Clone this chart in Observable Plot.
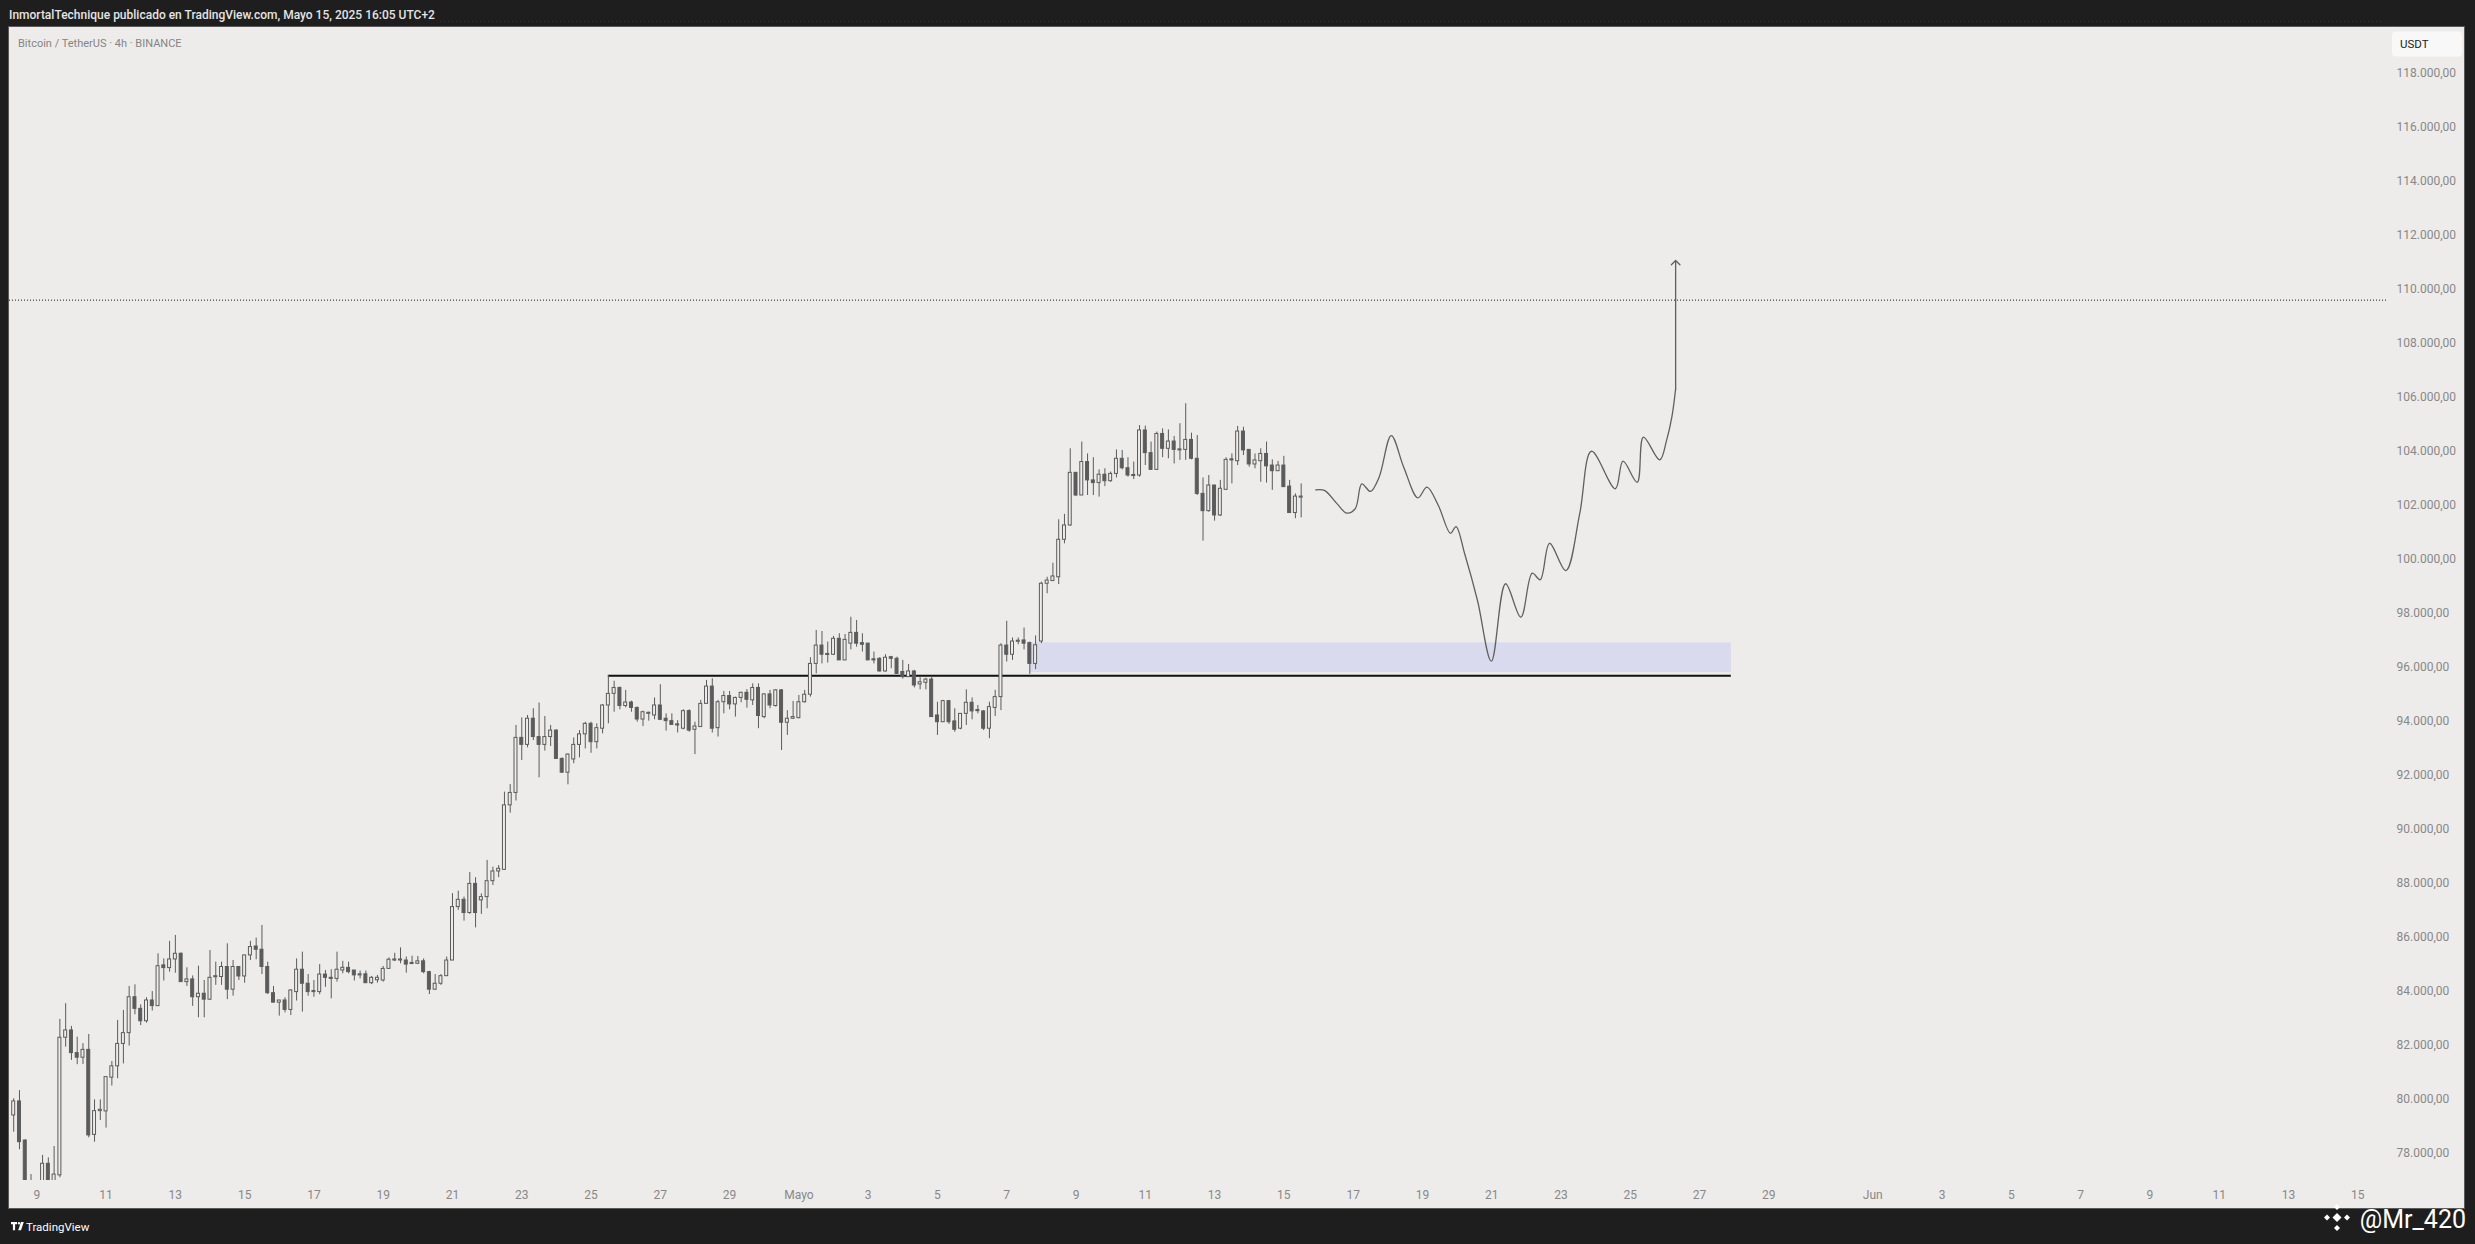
<!DOCTYPE html>
<html><head><meta charset="utf-8">
<script src="https://cdn.jsdelivr.net/npm/d3@7"></script>
<script src="https://cdn.jsdelivr.net/npm/@observablehq/plot@0.6"></script>
<style>
html,body{margin:0;padding:0;background:#1e1e1e;}
body{width:2475px;height:1244px;position:relative;overflow:hidden;font-family:Roboto,"Liberation Sans",sans-serif;}
#pane{position:absolute;left:9px;top:27px;width:2455px;height:1181px;background:#edecea;}
#overlay{position:absolute;left:0;top:0;pointer-events:none;}
</style></head>
<body>
<div id="pane"></div>
<svg id="overlay" width="2475" height="1244" font-family="Roboto, sans-serif">
  <text x="9" y="19" fill="#e4e4e4" font-size="12" font-weight="500">InmortalTechnique publicado en TradingView.com, Mayo 15, 2025 16:05 UTC+2</text>
  <line x1="440" x2="2382" y1="21.5" y2="21.5" stroke="#3a3a3a" stroke-dasharray="1,3"/>
  <rect x="8.5" y="26.5" width="2456" height="1182" fill="none" stroke="#5a5a5a"/>
  <text x="18" y="46.5" fill="#858585" font-size="11">Bitcoin / TetherUS · 4h · BINANCE</text>
  <rect x="2392" y="31.5" width="70" height="25" rx="4" fill="#f8f8f8"/>
  <text x="2400" y="48" font-size="11.5" fill="#1c1c1c">USDT</text>
  <g fill="#ffffff">
    <path d="M11 1222h6v2.3h-1.9v6h-2.2v-6H11z"/>
    <circle cx="19" cy="1223.2" r="1.2"/>
    <path d="M21 1222h2.8l-2.8 8.3h-2.8z"/>
    <text x="26" y="1231" font-size="11.5">TradingView</text>
  </g>
  <g fill="#ffffff">
    <path d="M2337 1213l4.5 4.5-4.5 4.5-4.5-4.5z"/>
    <path d="M2337 1204l3 3-3 3-3-3z"/>
    <path d="M2337 1225l3 3-3 3-3-3z"/>
    <path d="M2327 1214.5l3 3-3 3-3-3z"/>
    <path d="M2347 1214.5l3 3-3 3-3-3z"/>
    <text x="2466" y="1228" font-size="25" text-anchor="end">@Mr_420</text>
  </g>
</svg>
<script>
// ---- candle data (BTC/USDT 4h) ----
const open = [
79380,79900,78450,76500,76700,75800,77590,76700,77160,82260,
82530,81690,81520,81810,78660,79540,79530,80780,81200,82030,
82430,83760,83330,82870,83640,83430,84940,84840,85160,85370,
84320,84420,83760,83890,83670,84500,84510,84880,84040,84880,
84530,85310,85640,85520,84880,83910,83560,83640,83290,83950,
84780,84260,83950,83950,84600,84480,84440,84750,84850,84750,
84570,84610,84280,84390,84380,84810,85120,85120,85120,84990,
85000,85090,84690,84040,84260,84540,85120,87100,87370,86880,
87960,87350,87470,88060,88420,88480,90870,91330,93370,93110,
94080,93400,93110,93400,93640,92590,92080,92570,93110,93500,
93890,93210,93710,94570,95000,95220,94550,94680,94480,94050,
94260,94200,94570,94080,93990,93870,93710,94360,93670,93770,
94630,95270,93730,94690,94920,94610,94850,95040,94760,95220,
94140,94980,94550,95130,93930,94080,94100,94690,94970,96110,
96790,96480,96450,97040,96240,96860,97260,96880,96860,96280,
96300,95830,96360,96300,95810,95620,95830,95350,95410,95530,
94200,93950,94730,93980,93710,94260,94670,94400,94350,93710,
94480,94880,96790,96450,96930,96980,96880,96110,96940,99080,
99180,99320,100710,101240,103190,102350,103590,102910,102810,103120,
102880,103150,103710,103360,103110,103090,104760,103920,103300,104630,
104080,104350,104020,104040,104410,103710,102410,101770,102720,101610,
102560,103690,103620,104720,104040,103500,103620,103890,103460,103250,
103460,102680,101700,102270
];
const high = [
80000,80300,78480,77190,76950,77900,77810,78230,82940,83520,
82680,82280,82040,82380,79960,79960,80800,81380,82900,83270,
84160,84220,83480,83740,83970,85370,85180,85830,86050,85400,
84850,84550,84910,84380,85490,85060,85060,85740,85120,84900,
85310,85830,85950,86420,85060,84160,83640,83740,84040,85180,
85430,84600,84380,84970,84750,84780,85430,85090,85060,84750,
84730,84730,84530,84570,84900,85220,85390,85590,85250,85280,
85270,85180,84720,84600,84600,85250,87600,87690,87470,88380,
88190,87590,88830,88580,88640,91360,91640,93830,94110,94200,
94450,94660,94160,93830,93670,92630,92780,93370,93640,93950,
93950,93890,94610,95680,95470,95250,95130,94730,94510,94360,
94320,94850,95340,94260,94260,94010,94410,94410,93950,94760,
95500,95560,94760,95090,95090,94880,95060,95160,95370,95370,
95000,95130,95160,95160,94380,94720,94940,95130,96340,97350,
97310,96920,97130,97230,97200,97840,97720,97230,96880,96550,
96340,96450,96390,96360,96240,96090,95870,95600,95580,95640,
94690,94760,94760,94450,94260,95150,94850,94570,94380,94690,
95130,96860,97690,97070,97070,97440,96920,97150,99140,99320,
99840,101450,101650,104080,103190,104330,103890,103750,103300,103340,
103220,104040,104020,103750,103590,104940,104920,104330,104700,104820,
104780,104540,105010,105750,104660,104570,103000,103090,102720,102910,
103750,103890,104910,104880,104040,103890,104080,104330,103670,103610,
103800,102910,102410,102780
];
const low = [
78760,78110,76200,76000,74600,75500,76300,76400,77070,81910,
81420,81260,81270,78550,78390,79190,78910,80470,80740,81290,
81950,83110,82710,82800,83250,83420,84360,84690,84650,84320,
84160,83420,83000,83000,83640,84200,84200,83670,83800,84380,
84280,85120,85150,84600,83860,83550,83060,83180,83080,83620,
83210,83800,83760,83850,84130,83700,84320,84630,84630,84360,
84440,84280,84230,84280,84320,84810,85080,85000,84650,84970,
84970,84630,83860,84010,84200,84540,85120,86980,86580,86830,
86330,86830,87040,87900,88190,88460,90580,91030,92530,93000,
93270,91890,92880,93050,92590,92060,91630,92410,92630,92960,
92800,92960,93520,93890,94320,94410,94480,94320,93950,93790,
93990,94040,94010,93620,93830,93550,93670,93580,92750,93770,
94630,93550,93400,94260,94410,94140,94670,94470,94570,93710,
94080,94450,94510,92900,93460,94050,94080,94660,94880,95740,
96110,96140,96420,96240,96240,96630,96730,96550,96240,96110,
95810,95810,95930,95720,95550,95620,95220,95150,95150,94140,
93460,93950,93870,93580,93670,93830,94040,94260,93640,93340,
94160,94380,96180,96240,96820,96630,95720,95900,96860,98710,
99180,99050,100560,101210,102310,102350,102350,102350,102290,102680,
102840,103000,103300,103030,102940,103030,103460,103280,103280,103750,
103710,103520,103650,103650,103670,102350,100660,101730,101400,101570,
102540,102780,103460,103830,103400,103340,102840,102810,102540,103250,
102660,101700,101490,101520
];
const close = [
79900,78390,76500,76700,75800,77590,76700,77190,82260,82530,
81690,81520,81810,78640,79540,79590,80800,81200,82030,82430,
83760,83330,82870,83640,83430,84910,84840,85160,85370,84320,
84420,83760,83890,83670,84480,84540,84880,84040,84880,84530,
85310,85620,85520,84880,83910,83560,83640,83290,84010,84780,
84260,83950,83990,84600,84480,84440,84780,84850,84690,84570,
84610,84280,84480,84480,84810,85150,85160,85160,84970,85030,
85090,84690,84040,84260,84540,85120,87100,87370,86880,87960,
86880,87470,88060,88420,88520,90870,91330,93370,93110,94080,
93400,93110,93400,93640,92590,92080,92750,93110,93500,93890,
93210,93730,94570,95000,95220,94550,94680,94480,94050,94320,
94300,94570,94040,93990,93850,93830,94360,93640,93790,94630,
95270,93710,94690,94920,94610,94850,95040,94780,95220,94180,
94980,94570,95130,93930,94080,94140,94690,94970,96110,96790,
96450,96440,97040,96240,97000,97260,96860,96820,96240,96240,
95830,96340,96300,95740,95620,95830,95310,95430,95530,94140,
93950,94730,93950,93670,94260,94670,94350,94360,93710,94510,
94880,96790,96450,96940,96970,96860,96110,96800,99080,99200,
99350,100710,101240,103190,102350,103590,102910,102810,103120,102880,
103150,103710,103360,103090,103070,104760,103920,103300,104630,104080,
104350,104040,104060,104410,103710,102410,101770,102720,101610,102600,
103670,103650,104720,104020,103500,103650,103890,103430,103250,103460,
102660,101700,102310,102310
];
const firstCandle = "2025-04-08T08:00:00Z";   // 4h candles from here on

// ---- drawn projection (days after 9 Apr, price) ----
const projDay = [36.92,37.17,37.54,37.81,38.06,38.25,38.5,38.75,39.1,39.46,39.87,40.13,40.46,40.81,40.97,41.22,41.59,41.99,42.4,42.84,43.17,43.4,43.67,44.14,44.54,44.88,45.57,45.79,46.2,46.38,46.85,47.05,47.2,47.31];
const projPrice = [102560,102540,102040,101700,101860,102780,102500,103030,104570,103400,102260,102660,101980,100950,101200,100190,98460,96210,99080,97840,99470,99230,100580,99570,101670,103990,102600,103620,102840,104510,103670,104400,105250,106300];
const arrowTip = 111060;

// ---- annotations ----
const athPrice = 109588;
const zoneStart = "2025-05-07T16:00:00Z", zoneEnd = "2025-05-27T22:00:00Z";
const zoneLow = 95790, zoneHigh = 96890;
const levelStart = "2025-04-25T12:00:00Z", levelPrice = 95670;

// ---- axes ----
const yTicks = [78000,80000,82000,84000,86000,88000,90000,92000,94000,96000,98000,100000,102000,104000,106000,108000,110000,112000,114000,116000,118000];
const xTickDates = ["2025-04-09","2025-04-11","2025-04-13","2025-04-15","2025-04-17","2025-04-19","2025-04-21","2025-04-23","2025-04-25","2025-04-27","2025-04-29","2025-05-01","2025-05-03","2025-05-05","2025-05-07","2025-05-09","2025-05-11","2025-05-13","2025-05-15","2025-05-17","2025-05-19","2025-05-21","2025-05-23","2025-05-25","2025-05-27","2025-05-29","2025-06-01","2025-06-03","2025-06-05","2025-06-07","2025-06-09","2025-06-11","2025-06-13","2025-06-15"];
const xTickLabels = ["9","11","13","15","17","19","21","23","25","27","29","Mayo","3","5","7","9","11","13","15","17","19","21","23","25","27","29","Jun","3","5","7","9","11","13","15"];

const paneBg = "#edecea";
const candleColor = "#5b5b5b";
const H4 = 4 * 3600e3, DAY = 864e5;
const t0 = +new Date(firstCandle);
const candles = open.map((o, i) => ({t: new Date(t0 + i * H4), o, h: high[i], l: low[i], c: close[i]}));
const day0 = Date.UTC(2025, 3, 9);
const proj = projDay.map((d, i) => ({t: new Date(day0 + d * DAY), p: projPrice[i]}));
const last = proj[proj.length - 1];
const xTicks = xTickDates.map(s => new Date(s + "T00:00:00Z"));
const labelOf = new Map(xTicks.map((d, i) => [+d, xTickLabels[i]]));
const fmt = d3.formatLocale({decimal: ",", thousands: ".", grouping: [3], currency: ["", ""]}).format(",.2f");
const half = 62 * 60e3;

const chart = Plot.plot({
  width: 2455, height: 1181,
  marginLeft: 0, marginTop: 0, marginRight: 77, marginBottom: 28,
  style: {background: "transparent", fontFamily: "Roboto, sans-serif", fontSize: "12px", overflow: "visible"},
  x: {type: "utc", domain: [new Date(day0 - 0.788 * DAY), new Date(day0 + 67.86 * DAY)]},
  y: {domain: [76970, 119690]},
  marks: [
    Plot.axisY({anchor: "right", ticks: yTicks, tickFormat: fmt, tickSize: 0, tickPadding: 9, label: null, color: "#888888", fontSize: 12}),
    Plot.axisX({ticks: xTicks, tickFormat: d => labelOf.get(+d), tickSize: 0, tickPadding: 10, label: null, color: "#888888", fontSize: 12}),
    Plot.ruleY([athPrice], {stroke: "#1a1a1a", strokeDasharray: "1,2", strokeWidth: 1}),
    Plot.rect([{a: new Date(zoneStart), b: new Date(zoneEnd), lo: zoneLow, hi: zoneHigh}], {x1: "a", x2: "b", y1: "lo", y2: "hi", fill: "#d9daee"}),
    Plot.ruleY([{y: levelPrice, a: new Date(levelStart), b: new Date(zoneEnd)}], {y: "y", x1: "a", x2: "b", stroke: "#111111", strokeWidth: 2}),
    Plot.ruleX(candles, {x: "t", y1: "l", y2: "h", stroke: candleColor, strokeWidth: 1, clip: true}),
    Plot.rect(candles, {
      x1: d => new Date(+d.t - half), x2: d => new Date(+d.t + half),
      y1: d => Math.min(d.o, d.c), y2: d => Math.max(d.o, d.c),
      fill: d => d.c >= d.o ? paneBg : candleColor,
      stroke: candleColor, strokeWidth: 1, clip: true
    }),
    Plot.line(proj, {x: "t", y: "p", curve: "catmull-rom", stroke: "#606060", strokeWidth: 1.3}),
    Plot.arrow([{x: last.t, y1: last.p, y2: arrowTip}], {x1: "x", x2: "x", y1: "y1", y2: "y2", stroke: "#606060", strokeWidth: 1.3, headLength: 7, headAngle: 90})
  ]
});
document.getElementById("pane").appendChild(chart);
</script>
</body></html>
